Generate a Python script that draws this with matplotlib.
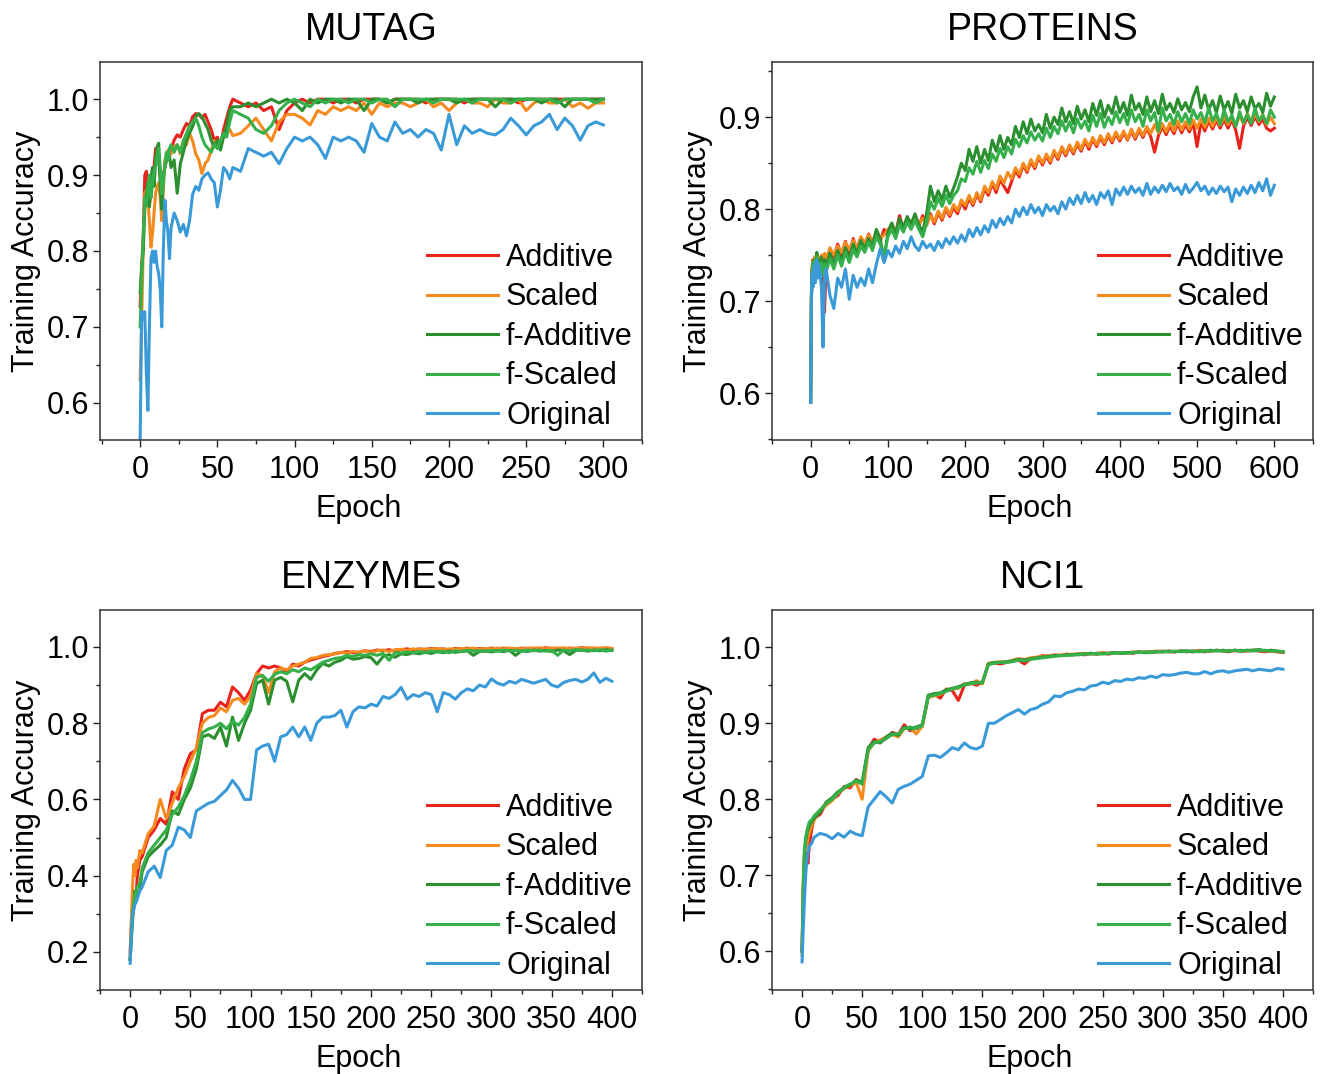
import matplotlib
matplotlib.use("Agg")
import matplotlib.pyplot as plt
from matplotlib.ticker import MultipleLocator, FormatStrFormatter

plt.rcParams['font.family'] = ['Liberation Sans', 'DejaVu Sans']

SERIES = ["Additive", "Scaled", "f-Additive", "f-Scaled", "Original"]
COLORS = ["#e8231c", "#f58a1f", "#2b8f2f", "#35b04b", "#3a9ad8"]

# -----------------------------------------------------------
# DATA (training accuracy in %)
# -----------------------------------------------------------
mutag_epochs = list(range(0, 21)) + list(range(22, 61, 2)) + list(range(65, 301, 5))
mutag_additive = [
    72.7, 78, 82, 90, 90.5, 89, 86, 88, 90, 91, 93.5, 92, 92, 90, 88, 90, 91, 92, 92.5, 93, 93.3,
    94.6, 95.3, 95, 96, 96.8, 96.5, 97.7, 98.1, 98, 97.5, 98, 97, 96, 94.6, 95, 93.7, 96, 97.5, 99, 100,
    99.5, 99, 99.5, 98.5, 99, 96, 98.5, 99.5,
    100, 99.5, 100, 100, 99.5, 100, 100, 99.5, 100, 100,
    100, 99.5, 100, 100, 100, 100, 99.5, 100, 100, 100,
    100, 99.5, 100, 100, 100, 100, 100, 100, 99.5, 100,
    100, 100, 100, 100, 100, 100, 100, 100, 100, 100]
mutag_scaled = [
    63, 71, 80.5, 87.6, 88, 86.7, 84, 80.5, 82.3, 85, 87.6, 88.5, 89, 87, 84, 88, 92, 92.5, 93.3, 93, 92.8,
    93.7, 94, 92.8, 94.6, 94, 95.5, 94.5, 92.8, 92, 90.2, 91.5, 92, 93.3, 94.5, 94, 94.5, 95, 96.4, 96, 95.2,
    95.5, 96.5, 97.5, 96, 94.5, 97, 98, 98,
    97.5, 96.6, 98.5, 98, 99, 98.5, 99, 98.5, 99.5, 98,
    99.5, 99, 99.5, 99.5, 99, 99.5, 100, 99, 99.5, 98.5,
    99.5, 100, 99.5, 99.5, 99, 100, 99.5, 99.5, 100, 98.5,
    99.5, 100, 99.5, 99.5, 100, 99, 99.5, 98.8, 99.5, 99.5]
mutag_fadditive = [
    74.5, 78, 80, 85.5, 87.6, 89, 85.8, 89.5, 91, 88.5, 92, 93.7, 94.2, 88.5, 85.5, 89.5, 91, 92, 93, 92.5, 91,
    92, 87.6, 91.5, 93, 94.6, 95.5, 96.4, 97.7, 98.1, 97.7, 96.8, 96, 94.6, 93.7, 94.6, 93.3, 95, 96.4, 98.6, 99,
    99, 99.5, 99, 99.5, 100, 99.5, 100, 99.5,
    98.5, 100, 99.5, 100, 100, 99.5, 100, 100, 98.5, 100,
    100, 99.5, 100, 100, 100, 99.5, 100, 100, 100, 100,
    99.5, 100, 100, 100, 100, 99, 100, 100, 100, 100,
    100, 99.5, 100, 100, 99, 100, 100, 100, 100, 100]
mutag_fscaled = [
    70, 76, 82, 87, 86, 88.5, 90, 87, 89, 90.5, 91, 92.5, 93.5, 91, 87.5, 89, 91.5, 93, 92, 93.5, 94,
    93, 94, 93, 94.5, 95.5, 96.5, 97, 97.5, 96.5, 95, 94, 93.5, 93, 94, 93.5, 94.5, 95.5, 95, 97, 98.5,
    98, 97.5, 96, 95.5, 96.5, 98.5, 99.5, 100,
    99.5, 99, 100, 99.5, 100, 100, 99.5, 100, 100, 99.5,
    100, 100, 99, 100, 100, 100, 100, 99.5, 100, 100,
    100, 100, 99.5, 100, 100, 100, 100, 99.5, 100, 100,
    100, 100, 100, 99.5, 100, 100, 100, 100, 99.5, 100]
mutag_original = [
    55, 72, 71, 72, 64, 59, 70, 79, 80, 78.5, 80, 78, 77, 75, 70, 80, 86.7, 84, 82.5, 79, 83,
    85, 84, 82.5, 83.5, 82, 84, 87.5, 88.5, 88, 89.5, 90, 90.3, 89.5, 89, 85.8, 88, 91, 90.5, 89.5, 91,
    90.5, 93.5, 93, 92.5, 93, 91.5, 93.5, 95,
    94.5, 95, 94, 92.2, 95, 94.5, 95, 94.5, 93, 96.8,
    95, 94.5, 97, 95.5, 96, 95, 96, 95.5, 93.3, 98,
    94, 96.5, 95.5, 96, 95.5, 95.3, 96, 97.5, 96.5, 95.3,
    96.5, 97, 98, 96, 97.5, 96.5, 94.6, 96.5, 97, 96.6]

proteins_epochs = list(range(0, 11)) + list(range(12, 21, 2)) + list(range(25, 601, 5))
proteins_additive = [
    59, 70.5, 73.8, 74.5, 73.5, 74.6, 73.6, 74.8, 75.2, 73.8, 74.5,
    74, 74.8, 73.5, 68.8, 74.2,
    75.5, 74.8, 76.2, 75, 76.5, 74.5, 76.8, 75.5, 76.8, 76, 77.3, 76.2, 77.6, 76.5, 77.8, 77.2,
    78.2, 77.4, 79.3, 77.8, 78.6, 77.9, 79.2, 78.2, 79.3, 78.5, 79.5, 78.4, 79.6, 78.8, 80, 79.2, 80.2, 79.5, 80.8, 80,
    81.2, 80.4, 81.6, 80.8, 82.2, 81.5, 82.8, 81.8, 83.2, 82.5, 81.8, 83, 84.2, 83.5, 84.8, 84, 85.2, 84.4, 85.6, 84.8,
    85.8, 85, 86.2, 85.4, 86.6, 85.8, 86.8, 86, 87.1, 86.3, 87.4, 86.5, 87.6, 86.8, 87.8, 87, 88, 87.2, 88.2, 87.4,
    88.3, 87.5, 88.5, 87.6, 88.6, 87.8, 88.8, 87.9, 86.2, 88, 89, 88.1, 89.1, 88.2, 89.3, 88.3, 89.2, 88.4, 89.4, 86.8,
    89.5, 88.5, 89.6, 88.7, 89.7, 88.8, 89.8, 88.8, 89.7, 88.6, 86.6, 89, 90, 89.1, 90.1, 89.2, 89.8, 88.8, 88.5, 88.8]
proteins_scaled = [
    59, 70, 73.5, 74.3, 73.2, 74.8, 73.8, 74.6, 75, 74, 74.8,
    74.2, 75, 74, 75.2, 74.5,
    75.8, 75, 76, 75.3, 76.4, 75.6, 76.6, 75.8, 77, 76.3, 77.2, 76.5, 77.5, 76.8, 77.2, 77.8,
    78.3, 77.6, 78.6, 77.9, 78.8, 78, 79, 78.4, 79, 78.2, 79.3, 78.6, 79.8, 79, 80.2, 79.4, 80.5, 79.8, 81, 80.4,
    81.5, 80.6, 81.8, 81, 82.5, 81.8, 83, 82.2, 83.6, 82.8, 84, 83.3, 84.5, 83.8, 85, 84.2, 85.4, 84.6, 85.8, 85,
    86, 85.2, 86.4, 85.6, 86.8, 86, 87, 86.2, 87.3, 86.5, 87.6, 86.8, 87.8, 87, 88, 87.2, 88.2, 87.4, 88.4, 87.6,
    88.5, 87.6, 88.7, 87.8, 88.8, 88, 89, 88.2, 89.2, 88.3, 89.3, 88.4, 89.4, 88.5, 89.6, 88.6, 89.5, 88.7, 89.7, 88.8,
    89.8, 88.9, 89.9, 89, 90, 89.1, 90.1, 89.2, 90, 89, 90.2, 89.3, 90.4, 89.4, 90.5, 89.5, 90.3, 89.2, 90, 89.3]
proteins_fadditive = [
    59, 71, 73.5, 74, 73, 74.5, 73.5, 74.2, 75.3, 73.8, 74.5,
    73.5, 74.8, 73.2, 74.5, 73.8,
    75.2, 74, 75.5, 74.3, 75.8, 74.6, 76.2, 75.2, 76.6, 75.7, 76.8, 76, 77.8, 76.8, 74.5, 77.5,
    78.5, 77.3, 79, 78, 79.2, 78.4, 79.5, 78.3, 77.5, 79.5, 82.5, 80.8, 82, 81, 82.5, 81.3, 82.3, 83.5, 85, 84.2,
    86.5, 85.2, 86.8, 85, 86.5, 85.3, 87.5, 86.3, 88, 86.5, 87.8, 87, 89, 87.8, 89.5, 88.2, 89.8, 88.5, 89.2, 88.3,
    90.3, 88.8, 90, 89.2, 91, 89.5, 90.6, 89.3, 91.2, 89.8, 90.8, 89.5, 91.5, 90.2, 91.8, 90, 91.3, 90.4, 92.2, 90.5,
    91.6, 90.2, 92.4, 90.8, 91.5, 90.3, 92.2, 90.6, 91.8, 90.4, 92.5, 90.8, 91.5, 90.5, 92, 90.8, 91.6, 90.6, 92.2, 93.3,
    91, 92.4, 90.8, 91.8, 90.5, 92.3, 90.8, 91.7, 90.4, 92.5, 91, 91.8, 90.6, 92.2, 90.9, 91.5, 90.5, 92.6, 91.2, 92.2]
proteins_fscaled = [
    59, 70.5, 73, 74.2, 72.8, 74.5, 73, 74.4, 74.8, 73.5, 74.2,
    73, 74.2, 72.8, 74, 73.2,
    74.6, 73.5, 75, 73.8, 75.3, 74.2, 75.6, 74.8, 76, 75.3, 76.4, 75.5, 77, 76.2, 75, 77,
    77.8, 76.8, 78.3, 77.5, 78.6, 77.8, 78.8, 77.8, 77, 78.5, 80.8, 80, 81.2, 80.3, 81.5, 80.6, 81.5, 82, 83.3, 83,
    84.5, 83.8, 85.2, 84, 85.3, 84.4, 86, 85.2, 86.6, 85.6, 86.8, 86, 87.6, 86.8, 88, 87.2, 88.4, 87.5, 88.2, 87.4,
    88.8, 87.8, 89, 88.2, 89.6, 88.5, 89.5, 88.3, 89.8, 88.8, 89.6, 88.5, 90.2, 89, 90.4, 88.9, 90, 89.2, 90.6, 89.4,
    90.4, 89.2, 90.8, 89.5, 90.3, 89, 90.8, 89.6, 90.5, 88.5, 91, 89.6, 90.3, 89.2, 90.6, 89.5, 90.4, 89.3, 90.8, 89.8,
    90.5, 89.4, 91, 89.6, 90.4, 89.2, 90.8, 89.5, 90.2, 89, 90.6, 89.4, 90.3, 89.3, 91, 89.6, 90.2, 89.3, 90.8, 90]
proteins_original = [
    59, 70, 73, 71.5, 73.5, 74, 72, 73.5, 74.5, 72.5, 74,
    73, 71.5, 65, 72.8, 73.5,
    70.6, 69.2, 72.5, 71.5, 73.5, 70.2, 72.8, 71.5, 72.5, 71.7, 73.5, 72, 74, 75.7, 74.2, 75.5,
    74.8, 76, 75.2, 76.5, 75.7, 77, 76, 75.5, 76.5, 75.8, 76.2, 75.5, 76.5, 75.8, 76.8, 76.2, 77, 76.3, 77.2, 76.5,
    77.8, 77, 78, 77.2, 78.2, 77.5, 78.8, 78, 79, 78.3, 79.2, 78.5, 80, 79.2, 80.2, 79.4, 80.5, 79.6, 80.2, 79.3,
    80.5, 79.8, 80.3, 79.5, 80.8, 80, 81.2, 80.5, 81.5, 80.6, 81.8, 80.8, 81.5, 80.5, 81.8, 81.2, 82, 80.5, 82.2, 81.5,
    82.4, 81.6, 82.5, 81.8, 82.3, 81.5, 82.8, 81.6, 82.4, 81.8, 82.6, 81.9, 82.8, 82, 82.4, 81.6, 82.7, 81.8, 82.3, 82.9,
    82, 82.5, 81.6, 82.3, 81.7, 82.5, 81.9, 82.4, 80.8, 82.2, 81.5, 82.4, 81.7, 82.6, 81.8, 82.9, 82, 83.3, 81.5, 82.6]

enzymes_epochs = [0, 1, 2, 3, 4, 5, 6, 8, 10] + list(range(15, 401, 5))
enzymes_additive = [
    20, 27, 31, 35, 33, 35, 40, 44, 45,
    50, 52, 55, 53.5, 62, 60, 68, 72, 73, 82.5, 83.4, 83.4, 85.5, 84.3, 89.5, 88, 86, 88.7,
    93, 95, 94.5, 95, 94.5, 93.5, 95.5, 95, 96, 96.6, 97, 97.5, 97.8, 98.3, 98.5, 98.8, 98.5, 98.6, 99, 98.8,
    99.2, 99, 99.3, 98.8, 99.3, 99.5, 99.2, 99.5, 99.3, 99.6, 99.4, 99.5, 99.2, 99.6, 99.5, 99.7, 99.4, 99.6, 99.5, 99.7,
    99.5, 99.7, 99.6, 99.4, 99.7, 99.6, 99.7, 99.5, 99.8, 99.6, 99.7, 99.5, 99.7, 99.6, 99.8, 99.6, 99.7, 99.5, 99.7, 99.6]
enzymes_scaled = [
    18, 28, 37, 43, 40, 44, 42, 46.6, 46,
    51, 53, 60, 55, 59, 63, 66, 70, 73.5, 80, 81.5, 82, 84, 83, 86, 86.5, 85, 87,
    93, 92.5, 88, 93.5, 94.5, 94, 95, 95.5, 96, 97, 97.2, 97.8, 98, 98.2, 98.6, 98.4, 98.8, 98.6, 99, 98.6,
    99, 99.2, 98.8, 99.3, 99.4, 99.1, 99.5, 99.3, 99.5, 99.4, 99.6, 99.3, 99.5, 99.4, 99.6, 99.5, 99.7, 99.4, 99.6, 99.5,
    99.7, 99.5, 99.7, 99.6, 99.5, 99.7, 99.6, 99.8, 99.5, 99.7, 99.6, 99.8, 99.5, 99.7, 99.6, 99.8, 99.6, 99.7, 99.8, 99.6]
enzymes_fadditive = [
    18, 23, 28, 32, 36, 34, 35, 36, 41,
    45, 46.6, 48, 50, 57, 56, 60, 63, 68, 76.4, 77, 76, 79, 74, 81.6, 75.5, 80, 83.4,
    90.4, 91.3, 85, 91.3, 92, 91, 85.6, 91.3, 93, 91.5, 94, 95.7, 95, 96, 96.5, 97.5, 96.8, 97, 97.5, 97.2,
    95.5, 97.5, 98, 97.3, 98.2, 98, 98.5, 98.2, 98.6, 98.3, 98.8, 98.5, 98.9, 98.6, 98.8, 99, 97.8, 98.8, 99, 98.7,
    99, 98.8, 99.1, 97.8, 99, 98.8, 99.2, 98.9, 99.1, 98.8, 99.2, 99, 98, 99.1, 99.2, 98.9, 99.2, 99, 99.3, 99.1]
enzymes_fscaled = [
    18, 24, 30, 33, 35, 36, 37, 38, 42,
    46, 48, 50, 52, 56, 58, 61, 65, 70, 77.5, 78.5, 79, 80, 78.5, 80.5, 79.5, 81.5, 85,
    92, 92.5, 91, 92.8, 93.5, 93, 94, 93.5, 94.5, 94, 95, 96, 96.5, 97, 97.2, 97.8, 97.5, 98, 97.8, 98.2,
    97.8, 98.3, 96.5, 98.5, 98.4, 98.7, 98.5, 98.8, 98.6, 98.9, 98.7, 98.9, 98.5, 99, 98.8, 99.1, 98.9, 99, 98.8, 99.1,
    98.9, 99.2, 99, 99.1, 98.9, 99.2, 99, 99.2, 98.9, 99.1, 97.8, 99.2, 99, 99.3, 99.1, 99.2, 99, 99.3, 98.9, 99.2]
enzymes_original = [
    17, 24, 30, 31, 32.5, 33, 34, 36, 37,
    41, 42.5, 39.5, 46.6, 48, 52.7, 52, 50, 57, 58, 59, 59.5, 61, 62.5, 65, 63, 60, 60,
    73, 74, 74.5, 70, 76.4, 77, 79, 76.4, 79, 75.5, 80, 81.6, 81.6, 82, 83.4, 79, 83, 84.3, 84, 85,
    84.5, 87, 86.5, 87.5, 89.4, 86.3, 87.5, 87, 88, 87.5, 83, 88, 87.5, 86.3, 88, 89, 88.5, 90, 89.5, 91.6,
    90.5, 90, 91, 90.5, 91.5, 91, 90.5, 91, 91.5, 90, 89.5, 90.7, 91.2, 91.5, 90.8, 91.5, 93.2, 90.7, 91.8, 91]

nci1_epochs = [0, 1, 2, 3, 4, 5, 6, 8, 10] + list(range(15, 401, 5))
nci1_additive = [
    60, 68, 72.5, 73, 72, 71.6, 74, 76, 77.5,
    78, 79.5, 80, 80.5, 81.7, 81.5, 82.6, 82, 86.6, 87.9, 87.5, 88, 88.8, 88.5, 89.8, 89, 89.3, 89.6,
    93.6, 93.8, 93.3, 94.5, 94.3, 93, 95, 95.3, 95, 95.4, 97.8, 97.9, 97.8, 98, 98.2, 98.3, 97.8, 98.5, 98.6, 98.9,
    98.8, 99, 98.9, 99.1, 99, 99.1, 99, 99.2, 99.1, 99.2, 99.1, 99.3, 99.2, 99.3, 99.2, 99.4, 99.3, 99.3, 99.4, 99.5,
    99.4, 99.4, 99.5, 99.4, 99.5, 99.5, 99.4, 99.5, 99.6, 99.5, 99.4, 99.6, 99.5, 99.5, 99.6, 99.5, 99.4, 99.5, 99.4, 99.3]
nci1_scaled = [
    59.5, 69, 73, 74, 74, 75, 75.5, 76.5, 77.2,
    78.5, 79.2, 79.8, 80.8, 81.4, 81.8, 82.2, 80, 86.3, 87.5, 87.8, 88.2, 88.5, 88.2, 89.3, 89.4, 88.6, 89.6,
    93.4, 93.6, 93.8, 94.3, 94.5, 94.6, 95.2, 95.1, 95.6, 95.2, 97.9, 98, 98.1, 98, 98.3, 98.5, 98.4, 98.6, 98.7, 98.8,
    98.9, 98.9, 99, 99, 99.1, 99.1, 99.2, 99.1, 99.2, 99.3, 99.2, 99.3, 99.3, 99.2, 99.4, 99.3, 99.4, 99.4, 99.5, 99.4,
    99.5, 99.4, 99.5, 99.5, 99.4, 99.6, 99.5, 99.5, 99.6, 99.5, 99.6, 99.5, 99.6, 99.5, 99.6, 99.6, 99.5, 99.6, 99.4, 99.4]
nci1_fadditive = [
    60, 68, 72.8, 74.5, 75.5, 76, 76.5, 77, 77.5,
    78.3, 79.6, 80.2, 81, 81.5, 81.9, 82.5, 82.3, 86.8, 87.6, 87.4, 88.2, 88.7, 88.4, 89.5, 89.2, 89.5, 89.8,
    93.7, 93.9, 94, 94.4, 94.6, 94.8, 95.1, 95.3, 95.4, 95.3, 97.8, 98, 98, 98.1, 98.2, 98.4, 98.3, 98.5, 98.6, 98.7,
    98.8, 98.9, 98.9, 99, 99, 99.1, 99.1, 99.2, 99.1, 99.2, 99.2, 99.3, 99.2, 99.3, 99.3, 99.4, 99.3, 99.4, 99.4, 99.4,
    99.5, 99.4, 99.5, 99.5, 99.4, 99.5, 99.5, 99.6, 99.5, 99.6, 99.5, 99.6, 99.5, 99.6, 99.6, 99.7, 99.5, 99.6, 99.5, 99.4]
nci1_fscaled = [
    60, 69, 73.5, 75, 75.8, 76.5, 77, 77.3, 77.8,
    78.6, 79.4, 80, 80.8, 81.6, 82, 82.4, 82, 86.5, 87.4, 87.6, 88, 88.5, 88.6, 89.3, 89.5, 89.3, 89.7,
    93.5, 93.7, 93.9, 94.2, 94.5, 94.7, 95, 95.2, 95.3, 95.4, 97.7, 97.9, 98, 98, 98.1, 98.3, 98.2, 98.4, 98.5, 98.6,
    98.7, 98.8, 98.9, 98.9, 99, 99, 99.1, 99.1, 99.2, 99.1, 99.2, 99.2, 99.3, 99.2, 99.3, 99.3, 99.4, 99.3, 99.4, 99.4,
    99.4, 99.5, 99.4, 99.5, 99.5, 99.4, 99.5, 99.5, 99.6, 99.5, 99.5, 99.6, 99.5, 99.6, 99.5, 99.6, 99.6, 99.5, 99.5, 99.4]
nci1_original = [
    58.6, 63, 66.7, 70, 72, 73, 73.8, 74.2, 75,
    75.5, 75.3, 74.8, 75.5, 75, 75.8, 75.4, 75.2, 79, 80, 81, 80.3, 79.5, 81.3, 81.7, 82, 82.5, 83,
    85.7, 85.8, 85.5, 86.1, 86.8, 86.5, 87.4, 86.8, 86.6, 87, 90, 90, 90.5, 91, 91.4, 91.8, 91.2, 91.8, 92, 92.5,
    92.8, 93.6, 93.5, 94, 94.2, 94.5, 94.4, 94.9, 95, 95.4, 95.2, 95.6, 95.5, 95.8, 95.7, 96, 95.9, 96.2, 96, 96.4,
    96.3, 96.4, 96.6, 96.7, 96.5, 96.5, 96.8, 96.5, 96.8, 96.9, 96.7, 96.9, 97, 97.1, 96.9, 97.1, 97, 96.9, 97.2, 97.1]

# -----------------------------------------------------------
# PANELS: title, epochs, series, axes rect, limits, tick steps
# -----------------------------------------------------------
W, H = 1327, 1074

def rect(left, top, right, bottom):
    return [left / W, 1 - bottom / H, (right - left) / W, (bottom - top) / H]

panels = [
    ("MUTAG", mutag_epochs,
     [mutag_additive, mutag_scaled, mutag_fadditive, mutag_fscaled, mutag_original],
     rect(100, 62, 642, 440), (-26, 325), (0.551, 1.049), 50, 25, 0.1, 0.05),
    ("PROTEINS", proteins_epochs,
     [proteins_additive, proteins_scaled, proteins_fadditive, proteins_fscaled, proteins_original],
     rect(772, 62, 1313, 440), (-50, 650), (0.549, 0.96), 100, 50, 0.1, 0.05),
    ("ENZYMES", enzymes_epochs,
     [enzymes_additive, enzymes_scaled, enzymes_fadditive, enzymes_fscaled, enzymes_original],
     rect(100, 610, 642, 990), (-25, 425), (0.1, 1.097), 50, 25, 0.2, 0.1),
    ("NCI1", nci1_epochs,
     [nci1_additive, nci1_scaled, nci1_fadditive, nci1_fscaled, nci1_original],
     rect(772, 610, 1313, 990), (-25, 425), (0.549, 1.049), 50, 25, 0.1, 0.05),
]

fig = plt.figure(figsize=(W / 100, H / 100), dpi=100)

for title, epochs, curves, r, xlim, ylim, xmaj, xmin, ymaj, ymin in panels:
    ax = fig.add_axes(r)
    for name, color, vals in zip(SERIES, COLORS, curves):
        ax.plot(epochs, [v / 100 for v in vals], color=color, lw=2.2, label=name)

    ax.set_xlim(*xlim)
    ax.set_ylim(*ylim)
    ax.xaxis.set_major_locator(MultipleLocator(xmaj))
    ax.xaxis.set_minor_locator(MultipleLocator(xmin))
    ax.yaxis.set_major_locator(MultipleLocator(ymaj))
    ax.yaxis.set_minor_locator(MultipleLocator(ymin))
    ax.yaxis.set_major_formatter(FormatStrFormatter('%.1f'))

    ax.tick_params(which='both', direction='out', top=False, right=False,
                   width=1, colors='#222222', labelcolor='black')
    ax.tick_params(which='major', length=5, labelsize=22, pad=3)
    ax.tick_params(axis='x', which='major', pad=6)
    ax.tick_params(which='minor', length=3)
    for sp in ax.spines.values():
        sp.set_linewidth(1.1)
        sp.set_color('#333333')

    ax.set_title(title, fontsize=27, pad=16)
    ax.set_xlabel("Epoch", fontsize=22, labelpad=6, x=0.477)
    ax.set_ylabel("Training Accuracy", fontsize=22, labelpad=4)

    ax.legend(loc='lower right', frameon=False, fontsize=22,
              handlelength=2.35, handletextpad=0.25, labelspacing=0.31,
              borderaxespad=0.2, borderpad=0.1)

fig.savefig("out.png", dpi=100)
